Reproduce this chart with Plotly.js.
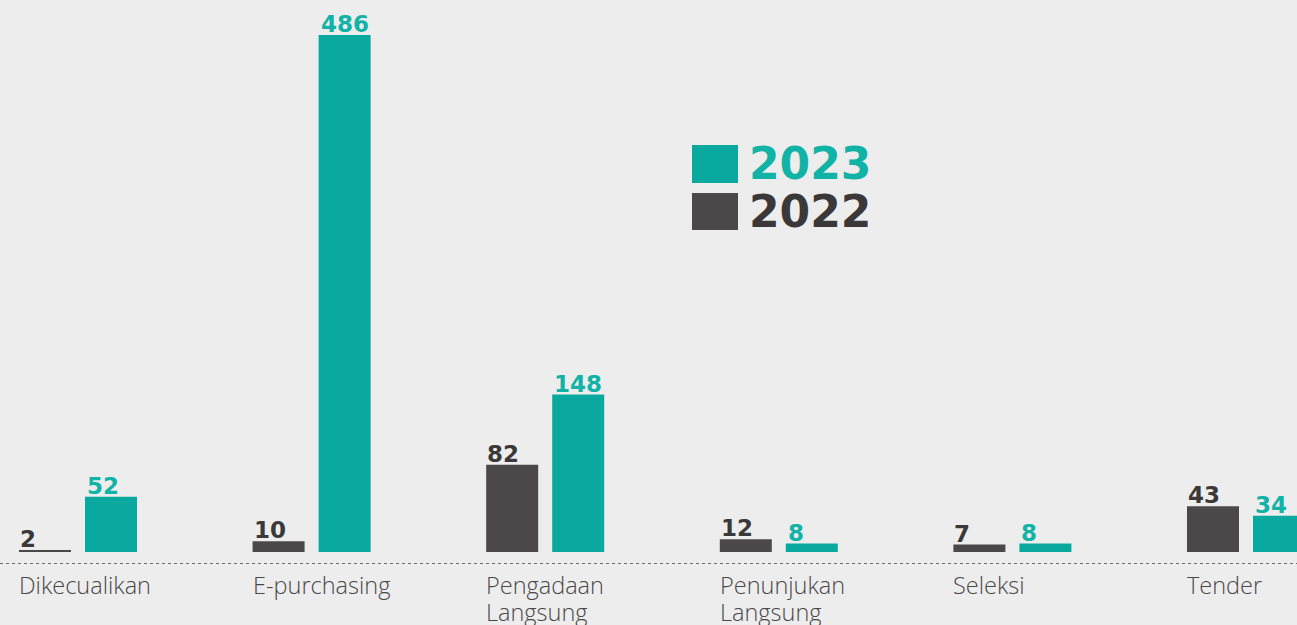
<!DOCTYPE html>
<html>
<head>
<meta charset="utf-8">
<script src="https://cdn.plot.ly/plotly-3.0.1.min.js"></script>
<style>html,body{margin:0;padding:0;background:#ededed;}#chart{width:1297px;height:625px;}</style>
</head>
<body>
<div id="chart"></div>
<script>
var categories = ["Dikecualikan", "E-purchasing", "Pengadaan<br>Langsung", "Penunjukan<br>Langsung", "Seleksi", "Tender"];
var seriesNames = ["2022", "2023"];
var values2022 = [2, 10, 82, 12, 7, 43];
var values2023 = [52, 486, 148, 8, 8, 34];

var colTeal = "#0aa9a0", colTealText = "#12b3a7";
var colDark = "#4b4849", colDarkText = "#3b3839";
var idx = categories.map(function(_, i){ return i; });
var barW = 0.2226, off22 = -0.2526, off23 = 0.030;

var traces = [
  {type:"bar", name:seriesNames[0], x:idx, y:values2022, width:barW, offset:off22,
   marker:{color:colDark}, hoverinfo:"y", showlegend:false},
  {type:"bar", name:seriesNames[1], x:idx, y:values2023, width:barW, offset:off23,
   marker:{color:colTeal}, hoverinfo:"y", showlegend:false}
];

var annotations = [];
idx.forEach(function(i){
  annotations.push({x:i+off22, y:values2022[i], xref:"x", yref:"y", xanchor:"left", yanchor:"bottom",
    text:String(values2022[i]), showarrow:false, yshift:-4, xshift:-1,
    font:{family:"DejaVu Sans", size:23, color:colDarkText, weight:700}});
  annotations.push({x:i+off23, y:values2023[i], xref:"x", yref:"y", xanchor:"left", yanchor:"bottom",
    text:String(values2023[i]), showarrow:false, yshift:-4, xshift:0,
    font:{family:"DejaVu Sans", size:23, color:colTealText, weight:700}});
  categories[i].split("<br>").forEach(function(line, k){
    annotations.push({x:i+off22, y:-14.1, xref:"x", yref:"y", xanchor:"left", yanchor:"top", align:"left",
      text:line, showarrow:false, xshift:-2, yshift:-27*k,
      font:{family:"Open Sans", size:23.5, color:"#4a4749", weight:300}});
  });
});
annotations.push({x:747/1297, y:1-164/625, xref:"paper", yref:"paper", xanchor:"left", yanchor:"middle",
  text:seriesNames[1], showarrow:false, font:{family:"DejaVu Sans", size:44, color:colTealText, weight:700}});
annotations.push({x:747/1297, y:1-212/625, xref:"paper", yref:"paper", xanchor:"left", yanchor:"middle",
  text:seriesNames[0], showarrow:false, font:{family:"DejaVu Sans", size:44, color:colDarkText, weight:700}});

var shapes = [
  {type:"line", xref:"paper", yref:"y", x0:0, x1:1, y0:-10.8, y1:-10.8, line:{color:"#6a6a6a", width:1, dash:"dot"}},
  {type:"rect", xref:"paper", yref:"paper", x0:692/1297, x1:738/1297, y0:1-183/625, y1:1-145/625, fillcolor:colTeal, line:{width:0}},
  {type:"rect", xref:"paper", yref:"paper", x0:692/1297, x1:738/1297, y0:1-230/625, y1:1-193/625, fillcolor:colDark, line:{width:0}}
];

var layout = {
  width:1297, height:625,
  margin:{l:0, r:0, t:0, b:0},
  paper_bgcolor:"#ededed", plot_bgcolor:"#ededed",
  barmode:"overlay",
  xaxis:{range:[-0.3339, 5.2183], showgrid:false, zeroline:false, showticklabels:false, showline:false, fixedrange:true},
  yaxis:{range:[-68.6, 518.8], showgrid:false, zeroline:false, showticklabels:false, showline:false, fixedrange:true},
  annotations:annotations,
  shapes:shapes,
  showlegend:false
};

Plotly.newPlot("chart", traces, layout, {displayModeBar:false, staticPlot:true});
</script>
</body>
</html>
